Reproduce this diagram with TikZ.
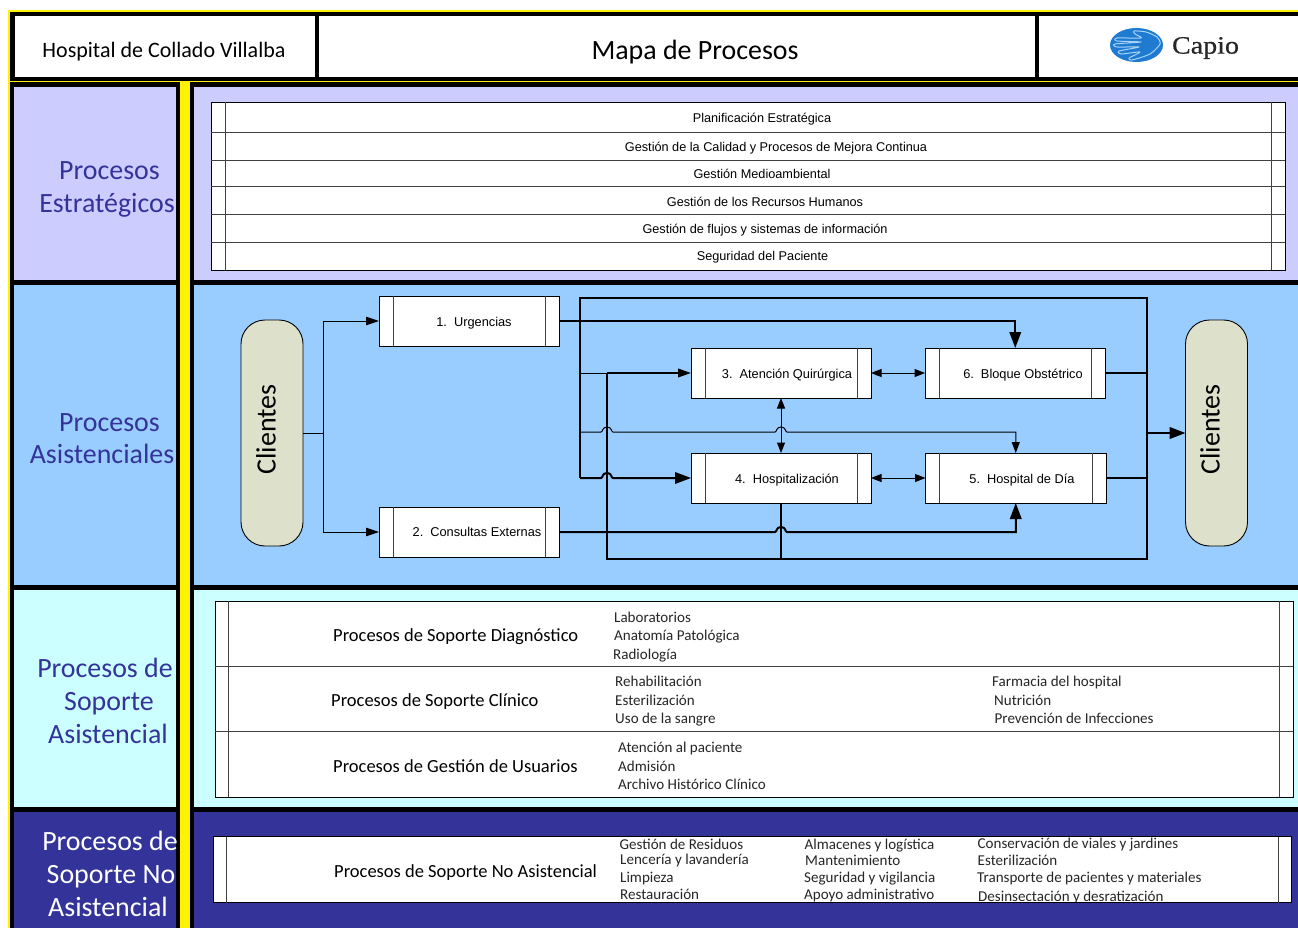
\documentclass[tikz,border=0pt]{standalone}
\usepackage{fontspec}
\setmainfont{Carlito}
\newfontfamily\arialf{Liberation Sans}
\newfontfamily\serf[FakeStretch=1.12,FakeBold=0.5]{Liberation Serif}
\usetikzlibrary{arrows.meta}
\definecolor{lav}{HTML}{CCCCFF}
\definecolor{skyb}{HTML}{99CCFF}
\definecolor{cyanb}{HTML}{CCFFFF}
\definecolor{navyb}{HTML}{333399}
\definecolor{pillc}{HTML}{DDE1CB}
\definecolor{logob}{HTML}{1F7AD2}
\definecolor{logol}{HTML}{A8D3F4}
\newcommand\jmp[2]{-- (#1-6,#2) .. controls (#1-4,#2) and (#1-5,#2-5) .. (#1,#2-5) .. controls (#1+5,#2-5) and (#1+4,#2) .. (#1+6,#2)}
\tikzset{
  x=1pt,y=-1pt,
  procbox/.style n args={2}{draw=black,fill=white,line width=.9pt,anchor=north west,inner sep=0pt,outer sep=0pt,
     minimum width=#1,minimum height=#2},
  bar/.style={draw=black!75,line width=.9pt},
  flowtxt/.style={font=\arialf\fontsize{12.8}{14}\selectfont,inner sep=0pt,text height=11pt,text depth=3pt},
  rowtxt/.style={font=\arialf\fontsize{12.7}{14}\selectfont,inner sep=0pt,text height=13pt,text depth=3pt},
  headtxt/.style={font=\fontsize{18.5}{20}\selectfont,inner sep=0pt,anchor=west,text height=16pt,text depth=4pt},
  listtxt/.style={font=\fontsize{15.05}{16}\selectfont,color=black!85,inner sep=0pt,anchor=west,text height=13pt,text depth=3pt},
  sidetxt/.style={font=\fontsize{27.9}{28}\selectfont,color=navyb,inner sep=0pt,text height=25pt,text depth=6pt},
  sidew/.style={sidetxt,color=white},
  pill/.style={draw=black,line width=.9pt,fill=pillc,rounded corners=24pt,minimum width=226pt,minimum height=62pt,inner sep=0pt,outer sep=0pt,rotate=90},
  pilltxt/.style={font=\fontsize{28}{30}\selectfont,rotate=90,inner sep=0pt},
  thin line/.style={line width=1pt,draw=black},
  thick line/.style={line width=2pt,draw=black},
  tipS/.style={-{Triangle[length=11pt,width=8pt]}},
  tipM/.style={-{Triangle[length=13pt,width=8.5pt]}},
  tipB/.style={-{Triangle[length=16pt,width=11.5pt]}},
  tipBoth/.style={{Triangle[length=10.5pt,width=8pt]}-{Triangle[length=10.5pt,width=8pt]}},
}
\begin{document}
\begin{tikzpicture}
\useasboundingbox (0,0) rectangle (1298,928);
\clip (0,0) rectangle (1298,928);
% frame
\fill[white] (0,0) rectangle (1298,928);
\fill[yellow] (8,10.5) rectangle (1298,928);
\fill[black] (10,12.5) rectangle (1298,81);
\fill[black] (10,82.5) rectangle (1298,928);
\fill[yellow] (180,82.5) rectangle (190,928);
% header cells
\fill[white] (14.5,16.5) rectangle (315,77);
\fill[white] (319,16.5) rectangle (1035,77);
\fill[white] (1039,16.5) rectangle (1298,77);
% bands
\fill[lav] (14,87) rectangle (176,280);
\fill[lav] (194,87) rectangle (1298,280);
\fill[skyb] (14,285) rectangle (176,585);
\fill[skyb] (194,285) rectangle (1298,585);
\fill[cyanb] (14,589.5) rectangle (176,806.5);
\fill[cyanb] (194,589.5) rectangle (1298,806.5);
\fill[navyb] (14,811.5) rectangle (176,928);
\fill[navyb] (194,811.5) rectangle (1298,928);
% header text
\node[inner sep=0pt,font=\fontsize{22}{24}\selectfont] (hosp) at (164,52) {Hospital de Collado Villalba};
\node[inner sep=0pt,font=\fontsize{27.9}{28}\selectfont] (mapa) at (695,52) {Mapa de Procesos};
% logo
\fill[logob] (1136.5,45) ellipse [x radius=26.5,y radius=17];
\draw[logol,line width=1pt,line join=round]
  plot[smooth cycle,tension=.45] coordinates {(1134,31) (1146,32) (1157,37) (1160,44) (1150,54) (1132,60) (1129,58) (1140,52) (1121,54) (1119,51) (1139,47) (1117,47) (1115,44) (1141,42) (1117,41) (1117,38) (1141,38) (1135,34)};
\node[inner sep=0pt,font=\serf\fontsize{25}{26}\selectfont,color=black!85] (capio) at (1205.5,48) {Capio};
% side labels
\node[sidetxt] (s1a) at (109.5,170) {Procesos};
\node[sidetxt] (s1b) at (107,203) {Estratégicos};
\node[sidetxt] (s2a) at (109.5,422) {Procesos};
\node[sidetxt] (s2b) at (102,454) {Asistenciales};
\node[sidetxt] (s3a) at (105,668) {Procesos de};
\node[sidetxt] (s3b) at (109,701) {Soporte};
\node[sidetxt] (s3c) at (108,734) {Asistencial};
\node[sidew] (s4a) at (110,841) {Procesos de};
\node[sidew] (s4b) at (111,874) {Soporte No};
\node[sidew] (s4c) at (108,907) {Asistencial};
% strategic table
\node[procbox={1074pt}{168pt}] (tabA) at (211,102) {};
\draw[bar] (225.5,102) -- (225.5,270) (1271,102) -- (1271,270);
\foreach \yy in {132.5,160,186.5,214.5,242.5} \draw[bar] (211,\yy) -- (1285,\yy);
\node[rowtxt] (a1) at (762,117.5) {Planificación Estratégica};
\node[rowtxt] (a2) at (776,146.5) {Gestión de la Calidad y Procesos de Mejora Continua};
\node[rowtxt] (a3) at (762,173.5) {Gestión Medioambiental};
\node[rowtxt] (a4) at (765,201.5) {Gestión de los Recursos Humanos};
\node[rowtxt] (a5) at (765,228.5) {Gestión de flujos y sistemas de información};
\node[rowtxt] (a6) at (762.5,255.5) {Seguridad del Paciente};
% pills
\node[pill] (cL) at (272,433) {};
\node[pill] (cR) at (1216.5,433) {};
\node[pilltxt] (cLt) at (266,429.5) {Clientes};
\node[pilltxt] (cRt) at (1210,429.5) {Clientes};
% process boxes
\node[procbox={180pt}{50pt}] (p1) at (379,296) {};
\node[procbox={180pt}{50pt}] (p2) at (379,507) {};
\node[procbox={180pt}{50pt}] (p3) at (691,348) {};
\node[procbox={180pt}{50pt}] (p4) at (691,453) {};
\node[procbox={180.5pt}{50pt}] (p6) at (925,348) {};
\node[procbox={180.5pt}{50pt}] (p5) at (925.5,453) {};
\foreach \n in {p1,p2,p3,p4,p5,p6}
  \draw[bar] ([xshift=14pt]\n.north west) -- ([xshift=14pt]\n.south west)
             ([xshift=-14pt]\n.north east) -- ([xshift=-14pt]\n.south east);
\node[flowtxt] (t1) at (474,322) {1.\hspace{7pt}Urgencias};
\node[flowtxt] (t2) at (477,532) {2.\hspace{7pt}Consultas Externas};
\node[flowtxt] (t3) at (787,374) {3.\hspace{7pt}Atención Quirúrgica};
\node[flowtxt] (t4) at (787,479) {4.\hspace{7pt}Hospitalización};
\node[flowtxt] (t6) at (1023,374) {6.\hspace{7pt}Bloque Obstétrico};
\node[flowtxt] (t5) at (1022,479) {5.\hspace{7pt}Hospital de Día};
% junctions
\coordinate (jL) at (323,433);
\coordinate (jR) at (1147,433);
\coordinate (tl) at (580,298);
\coordinate (tr) at (1147,298);
\coordinate (bl) at (607,559);
\coordinate (br) at (1147,559);
\coordinate (jM) at (781,559);
\coordinate (j3) at (580,373);
\coordinate (j3b) at (607,373);
\coordinate (j5) at (580,432);
\coordinate (j4) at (580,478);
% left feed
\draw[thin line] (cL.south) -- (jL);
\draw[thin line,tipM] (jL) |- (p1.west);
\draw[thin line,tipM] (jL) |- (p2.west);
% loop and feeds
\draw[thick line,tipB] (p1.east) -| (p6.north);
\draw[line width=1.6pt] (j4) -- (tl) -- (tr) -- (br) -- (bl) -- (j3b);
\draw[thin line] (j3) -- (j3b);
\draw[thick line,tipM] (j3b) -- (p3.west);
\draw[thick line,tipB] (j4) \jmp{607}{478} -- (p4.west);
\draw[thin line,tipS] (j5) \jmp{607}{432} \jmp{781}{432} -| (p5.north);
\draw[thick line,tipB] (p2.east) \jmp{781}{532} -| (p5.south);
\draw[line width=1.5pt] (p4.south) -- (jM);
\draw[thin line,tipBoth] (p3.south) -- (p4.north);
\draw[thin line,tipBoth] (p3.east) -- (p6.west);
\draw[thin line,tipBoth] (p4.east) -- (p4.east -| p5.west);
\draw[thick line] (p6.east) -- (p6.east -| jR);
\draw[thick line] (p5.east) -- (p5.east -| jR);
\draw[line width=2.4pt,tipB] (jR) -- (cR.north);
% support table
\node[procbox={1078pt}{196pt}] (tabB) at (215,601) {};
\draw[bar] (228.5,601) -- (228.5,797) (1279.5,601) -- (1279.5,797);
\foreach \yy in {666.5,731} \draw[bar] (215,\yy) -- (1293,\yy);
\node[headtxt] (b1) at (333,635) {Procesos de Soporte Diagnóstico};
\node[headtxt] (b2) at (331,700) {Procesos de Soporte Clínico};
\node[headtxt] (b3) at (333,766) {Procesos de Gestión de Usuarios};
\node[listtxt] (l1) at (614,617) {Laboratorios};
\node[listtxt] (l2) at (614,635.5) {Anatomía Patológica};
\node[listtxt] (l3) at (613,654) {Radiología};
\node[listtxt] (l4) at (615,681) {Rehabilitación};
\node[listtxt] (l5) at (615,700) {Esterilización};
\node[listtxt] (l6) at (615,718) {Uso de la sangre};
\node[listtxt] (l7) at (992,681) {Farmacia del hospital};
\node[listtxt] (l8) at (994,700) {Nutrición};
\node[listtxt] (l9) at (994.5,718) {Prevención de Infecciones};
\node[listtxt] (l10) at (618,747) {Atención al paciente};
\node[listtxt] (l11) at (618,766) {Admisión};
\node[listtxt] (l12) at (618,784) {Archivo Histórico Clínico};
% non-clinical table
\node[procbox={1078pt}{66pt}] (tabC) at (213,836.5) {};
\draw[bar] (226,836.5) -- (226,902.5) (1278,836.5) -- (1278,902.5);
\node[headtxt] (b4) at (334,871) {Procesos de Soporte No Asistencial};
\node[listtxt] (n1) at (619.5,844) {Gestión de Residuos};
\node[listtxt] (n2) at (620,859.5) {Lencería y lavandería};
\node[listtxt] (n3) at (620,877) {Limpieza};
\node[listtxt] (n4) at (620,894) {Restauración};
\node[listtxt] (n5) at (804.5,844.5) {Almacenes y logística};
\node[listtxt] (n6) at (805,860) {Mantenimiento};
\node[listtxt] (n7) at (804,877) {Seguridad y vigilancia};
\node[listtxt] (n8) at (804,894) {Apoyo administrativo};
\node[listtxt] (n9) at (977.5,843.5) {Conservación de viales y jardines};
\node[listtxt] (n10) at (977.5,860) {Esterilización};
\node[listtxt] (n11) at (977,877.5) {Transporte de pacientes y materiales};
\node[listtxt] (n12) at (978,896) {Desinsectación y desratización};
\fill[navyb] (960,902.5) rectangle (1200,910);
\draw[black,line width=.9pt] (960,902.5) -- (1200,902.5);
\end{tikzpicture}
\end{document}
